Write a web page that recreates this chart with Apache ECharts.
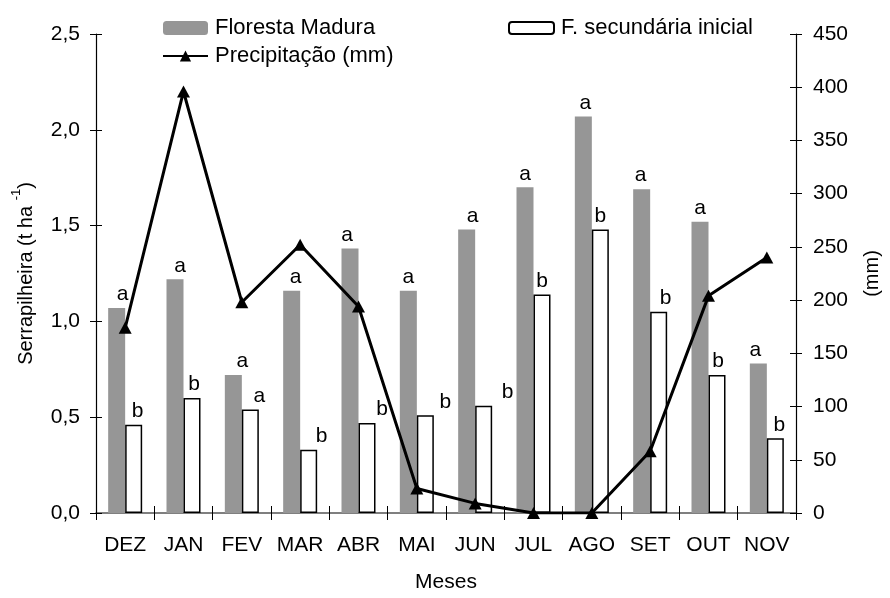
<!DOCTYPE html>
<html>
<head>
<meta charset="utf-8">
<script src="https://cdn.jsdelivr.net/npm/echarts@6/dist/echarts.min.js"></script>
<style>html,body{margin:0;padding:0;background:#fff;overflow:hidden;}#c{width:890px;height:598px;}</style>
</head>
<body>
<div id="c"></div>
<script>
const months = ['DEZ','JAN','FEV','MAR','ABR','MAI','JUN','JUL','AGO','SET','OUT','NOV'];
const florestaMadura = [1.07,1.22,0.72,1.16,1.38,1.16,1.48,1.70,2.07,1.69,1.52,0.78];
const fSecundaria = [0.46,0.60,0.54,0.33,0.47,0.51,0.56,1.14,1.48,1.05,0.72,0.39];
const precipitacao = [174,396,198,252,194,23,9,0,0,58,204,240];
const lettersMadura = ['a','a','a','a','a','a','a','a','a','a','a','a'];
const lettersSecundaria = ['b','b','a','b','b','b','b','b','b','b','b','b'];

// label horizontal nudges (styling only)
const nudgeMadura = [6,5,9,4,-3,0,6,0,2,-1,0,-3];
const nudgeSec = [4,2,9,13,15,20,24,0,0,7,1,4];

const FONT = 'Liberation Sans, Arial, sans-serif';
const FS = 21;

const chart = echarts.init(document.getElementById('c'), null, {renderer:'canvas'});

const labelBase = {show:true, position:'top', distance:3, color:'#000', fontSize:FS, fontFamily:FONT};

const option = {
  backgroundColor:'#fff',
  animation:false,
  textStyle:{fontFamily:FONT},
  grid:{left:96, right:87, top:34, bottom:78, containLabel:false},
  legend:[
    {
      left:157, top:12, orient:'vertical', itemWidth:45, itemHeight:14, itemGap:6,
      data:['Floresta Madura','Precipitação (mm)'],
      textStyle:{fontSize:22, color:'#000', fontFamily:FONT, padding:[0,0,0,2]}
    },
    {
      left:503, top:12, orient:'vertical', itemWidth:45, itemHeight:12, itemGap:6,
      data:['F. secundária inicial'],
      textStyle:{fontSize:22, color:'#000', fontFamily:FONT, padding:[0,0,0,2]}
    }
  ],
  xAxis:[
    {
      type:'category', data:months, boundaryGap:true,
      axisLine:{show:true, lineStyle:{color:'#555', width:1.5}},
      axisTick:{show:true, inside:false, length:7, lineStyle:{color:'#000', width:1}},
      axisLabel:{color:'#000', fontSize:FS, fontFamily:FONT, margin:22, interval:0},
      name:'Meses', nameLocation:'middle', nameGap:59,
      nameTextStyle:{color:'#000', fontSize:FS, fontFamily:FONT},
      splitLine:{show:false}
    },
    {
      type:'category', data:months, boundaryGap:true, position:'bottom',
      axisLine:{show:false},
      axisTick:{show:true, inside:true, length:7, lineStyle:{color:'#000', width:1}},
      axisLabel:{show:false}, splitLine:{show:false}
    }
  ],
  yAxis:[
    {
      type:'value', position:'left', min:0, max:2.5, interval:0.5,
      axisLine:{show:true, lineStyle:{color:'#000', width:1.2}},
      axisTick:{show:true, length:6, lineStyle:{color:'#000'}},
      axisLabel:{color:'#000', fontSize:FS, fontFamily:FONT, margin:16,
        formatter:v=>v.toFixed(1).replace('.',',')},
      splitLine:{show:false},
      name:'{t|Serrapilheira (t ha }{s|-1}{t|)}', nameLocation:'middle', nameGap:60, nameRotate:90,
      nameTextStyle:{color:'#000', fontFamily:FONT,
        rich:{t:{fontSize:FS-1, color:'#000', fontFamily:FONT, lineHeight:26, verticalAlign:'bottom'},
              s:{fontSize:13, color:'#000', fontFamily:FONT, lineHeight:26, verticalAlign:'top'}}}
    },
    {
      type:'value', position:'right', min:0, max:450, interval:50,
      axisLine:{show:true, lineStyle:{color:'#000', width:1.2}},
      axisTick:{show:true, length:6, lineStyle:{color:'#000'}},
      axisLabel:{color:'#000', fontSize:FS, fontFamily:FONT, margin:17},
      splitLine:{show:false},
      name:'(mm)', nameLocation:'middle', nameGap:66, nameRotate:90,
      nameTextStyle:{color:'#000', fontSize:FS-1, fontFamily:FONT}
    },
    {
      type:'value', position:'left', min:0, max:2.5, interval:0.5,
      axisLine:{show:false}, axisTick:{show:true, inside:true, length:6, lineStyle:{color:'#000'}},
      axisLabel:{show:false}, splitLine:{show:false}
    },
    {
      type:'value', position:'right', min:0, max:450, interval:50,
      axisLine:{show:false}, axisTick:{show:true, inside:true, length:6, lineStyle:{color:'#000'}},
      axisLabel:{show:false}, splitLine:{show:false}
    }
  ],
  series:[
    {
      name:'Floresta Madura', type:'bar', xAxisIndex:0, yAxisIndex:0,
      barWidth:17, barGap:'0%',
      itemStyle:{color:'#969696'},
      data:florestaMadura.map((v,i)=>({value:v, label:Object.assign({}, labelBase,
        {offset:[nudgeMadura[i],0], formatter:lettersMadura[i]})})),
      z:2
    },
    {
      name:'F. secundária inicial', type:'bar', xAxisIndex:0, yAxisIndex:0,
      barWidth:17, barGap:'0%',
      itemStyle:{color:'#fff', borderColor:'#000', borderWidth:1.5},
      data:fSecundaria.map((v,i)=>({value:v, label:Object.assign({}, labelBase,
        {offset:[nudgeSec[i],0], formatter:lettersSecundaria[i]})})),
      z:2
    },
    {
      name:'Precipitação (mm)', type:'line', xAxisIndex:0, yAxisIndex:1,
      data:precipitacao,
      symbol:'triangle', symbolSize:[13,12],
      lineStyle:{color:'#000', width:3},
      itemStyle:{color:'#000'},
      z:5
    }
  ]
};
chart.setOption(option);
</script>
</body>
</html>
